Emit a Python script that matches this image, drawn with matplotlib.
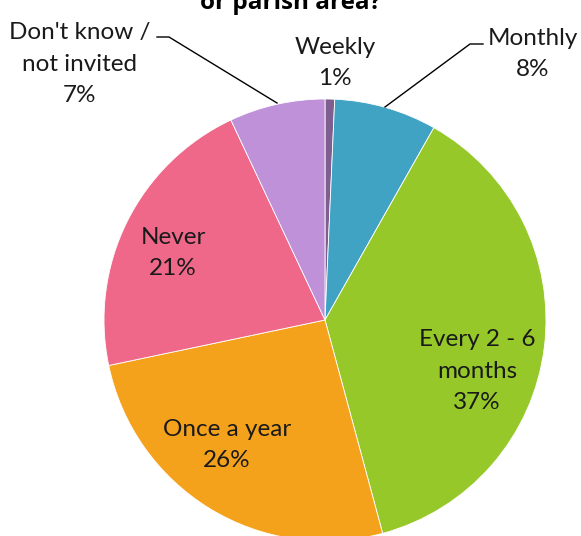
import matplotlib.pyplot as plt

# slices, clockwise from the top
categories = ['Weekly', 'Monthly', 'Every 2 - 6\nmonths', 'Once a year', 'Never', "Don't know /\nnot invited"]
values = [0.7, 7.5, 37.6, 25.9, 21.3, 7.0]
shown_pct = [1, 8, 37, 26, 21, 7]
colors = ['#7e5f8f', '#40a3c4', '#96c82a', '#f4a21c', '#ef6889', '#bf91d9']

# pixel helpers: pie centre at (325, 320), radius 221 px
W, H = 581, 536
cx, cy, r = 325, 320, 221
def px(x, y):
    return (x - cx) / r, (cy - y) / r

fig = plt.figure(figsize=(W / 100, H / 100), dpi=100)
ax = fig.add_axes([0, 0, 1, 1])
ax.pie(values, colors=colors, startangle=90, counterclock=False,
       wedgeprops=dict(edgecolor='white', linewidth=0.6))
ax.set_xlim(-cx / r, (W - cx) / r)
ax.set_ylim((cy - H) / r, cy / r)
ax.axis('off')

font = dict(family='Lato', fontsize=17.5, color='#1a1a1a', ha='center', va='center', linespacing=1.62)
label_pos = [(335, 63), (533, 54), (477, 371), (227, 445), (173, 253), (80, 64)]
for cat, p, (x, y) in zip(categories, shown_pct, label_pos):
    ax.text(*px(x, y), f'{cat}\n{p}%', **font)

# leader lines
for pts in [[(157, 37), (169, 37), (277, 103)], [(483, 44), (470, 44), (385, 107)]]:
    xs, ys = zip(*[px(x, y) for x, y in pts])
    ax.plot(xs, ys, color='black', lw=1)

# title, only its last line shows at the top
ax.text(*px(291, 3), 'or parish area?', family='Open Sans', fontweight='bold',
        fontsize=17.5, ha='center', va='center', color='black')

fig.savefig('out.png', dpi=100)
